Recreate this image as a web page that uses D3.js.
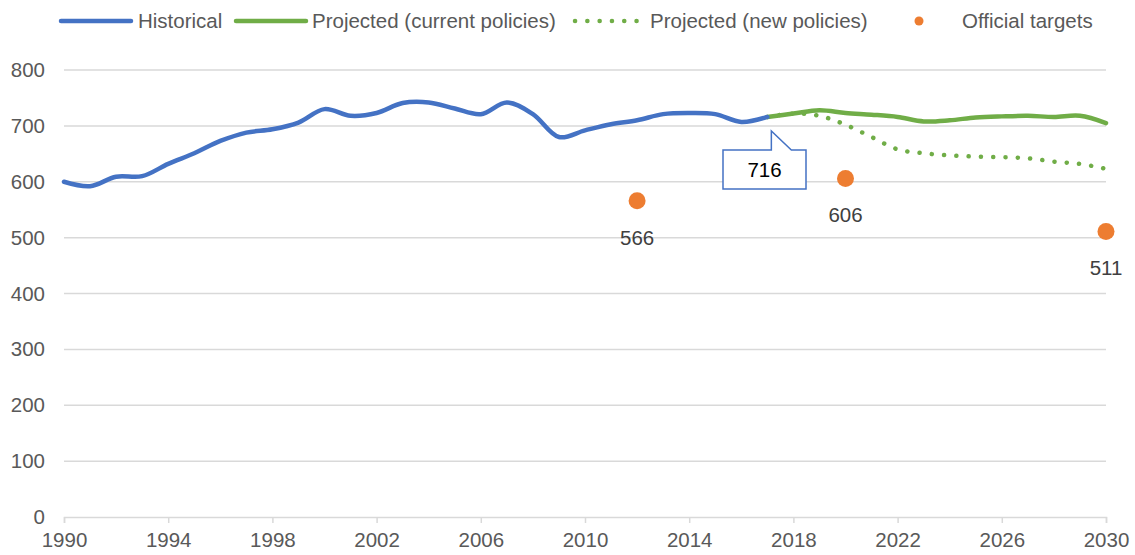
<!DOCTYPE html>
<html>
<head>
<meta charset="utf-8">
<script src="https://cdn.jsdelivr.net/npm/d3@7"></script>
<style>
  body { margin: 0; background: #fff; }
  svg { display: block; font-family: "Liberation Sans", Arial, sans-serif; }
</style>
</head>
<body>
<svg class="target" width="1135" height="555"></svg>
<script>
// data
var histYears = d3.range(1990, 2018);
var histValues = [600, 592, 609, 610, 632, 651, 673, 688, 694, 706, 730, 718, 723, 741, 742, 731, 721, 742, 721, 680, 692, 703, 710, 721, 723, 721, 707, 716];

var projYears = d3.range(2017, 2031);
var currentValues = [716, 722, 728, 723, 720, 716, 708, 710, 715, 717, 718, 716, 718, 705];
var newValues = [716, 722, 718, 702, 680, 658, 651, 647, 645, 644, 642, 636, 632, 623];

var targetYears = [2012, 2020, 2030];
var targetValues = [566, 606, 511];

var yTicks = [0, 100, 200, 300, 400, 500, 600, 700, 800];
var xTicks = d3.range(1990, 2031, 4);

var blue = "#4472C4", green = "#70AD47", orange = "#ED7D31", grey = "#595959", gridc = "#d9d9d9";

var svg = d3.select(".target");
var plot_l = 64, plot_r = 1106, plot_t = 70, plot_b = 517;

var x = d3.scaleLinear().domain([1990, 2030]).range([plot_l, plot_r]);
var y = d3.scaleLinear().domain([0, 800]).range([plot_b, plot_t]);

// gridlines
svg.append("g")
    .selectAll("line")
    .data(yTicks.filter(d => d > 0))
    .join("line")
    .attr("x1", plot_l).attr("x2", plot_r)
    .attr("y1", d => y(d)).attr("y2", d => y(d))
    .style("stroke", gridc).style("stroke-width", 1.5);

// y axis labels
var yAxis = svg.append("g")
    .attr("transform", "translate(" + plot_l + ",0)")
    .call(d3.axisLeft(y).tickValues(yTicks).tickSize(0).tickPadding(19));
yAxis.select(".domain").remove();
yAxis.selectAll("text").style("font-size", "20.5px").style("fill", grey).style("font-family", "Liberation Sans, Arial, sans-serif");

// x axis
var xAxis = svg.append("g")
    .attr("transform", "translate(0," + plot_b + ")")
    .call(d3.axisBottom(x).tickValues(xTicks).tickFormat(d3.format("d")).tickSizeOuter(0).tickSize(6).tickPadding(9));
xAxis.select(".domain").style("stroke", gridc).style("stroke-width", 1.5);
xAxis.selectAll(".tick line").style("stroke", gridc).style("stroke-width", 1.5);
xAxis.selectAll("text").style("font-size", "20.5px").style("fill", grey).style("font-family", "Liberation Sans, Arial, sans-serif");

var line = d3.line()
    .x(d => x(d[0]))
    .y(d => y(d[1]))
    .curve(d3.curveCatmullRom.alpha(0.5));

// new policies (dotted)
svg.append("path")
    .datum(d3.zip(projYears, newValues))
    .attr("d", line)
    .style("fill", "none")
    .style("stroke", green)
    .style("stroke-width", 4.5)
    .style("stroke-linecap", "round")
    .style("stroke-dasharray", "0.1 12.2");

// current policies
svg.append("path")
    .datum(d3.zip(projYears, currentValues))
    .attr("d", line)
    .style("fill", "none")
    .style("stroke", green)
    .style("stroke-width", 4.5)
    .style("stroke-linecap", "round");

// historical
svg.append("path")
    .datum(d3.zip(histYears, histValues))
    .attr("d", line)
    .style("fill", "none")
    .style("stroke", blue)
    .style("stroke-width", 4.5)
    .style("stroke-linecap", "round");

// official targets
var targets = d3.zip(targetYears, targetValues);
svg.append("g").selectAll("circle")
    .data(targets)
    .join("circle")
    .attr("cx", d => x(d[0]))
    .attr("cy", d => y(d[1]))
    .attr("r", 8.5)
    .style("fill", orange);

svg.append("g").selectAll("text")
    .data(targets)
    .join("text")
    .attr("x", d => x(d[0]))
    .attr("y", d => y(d[1]) + 44)
    .attr("text-anchor", "middle")
    .style("font-size", "20.5px")
    .style("fill", "#404040")
    .text(d => d[1]);

// callout for last historical value
var lastYear = histYears[histYears.length - 1];
var lastVal = histValues[histValues.length - 1];
var bx0 = 723, bx1 = 806, by0 = 150, by1 = 189;
var tipX = x(lastYear) + 3, tipY = y(lastVal) + 14;
svg.append("path")
    .attr("d", "M" + bx0 + "," + by0 + " L" + (tipX + 1) + "," + by0 + " L" + (tipX + 1) + "," + tipY +
        " L" + (tipX + 21) + "," + by0 + " L" + bx1 + "," + by0 + " L" + bx1 + "," + by1 + " L" + bx0 + "," + by1 + " Z")
    .style("fill", "#fff")
    .style("stroke", blue)
    .style("stroke-width", 1.5);
svg.append("text")
    .attr("x", (bx0 + bx1) / 2)
    .attr("y", 177)
    .attr("text-anchor", "middle")
    .style("font-size", "20.5px")
    .style("fill", "#000")
    .text(lastVal);

// legend
var lg = svg.append("g").style("font-size", "20.5px").style("fill", grey);
lg.append("line").attr("x1", 61).attr("x2", 131).attr("y1", 21).attr("y2", 21)
    .style("stroke", blue).style("stroke-width", 4.5).style("stroke-linecap", "round");
lg.append("text").attr("x", 138).attr("y", 28).text("Historical");
lg.append("line").attr("x1", 236).attr("x2", 306).attr("y1", 21).attr("y2", 21)
    .style("stroke", green).style("stroke-width", 4.5).style("stroke-linecap", "round");
lg.append("text").attr("x", 312).attr("y", 28).text("Projected (current policies)");
lg.append("line").attr("x1", 575).attr("x2", 637).attr("y1", 21).attr("y2", 21)
    .style("stroke", green).style("stroke-width", 4.5).style("stroke-linecap", "round")
    .style("stroke-dasharray", "0.1 12.2");
lg.append("text").attr("x", 650).attr("y", 28).text("Projected (new policies)");
lg.append("circle").attr("cx", 919).attr("cy", 21).attr("r", 4.5).style("fill", orange);
lg.append("text").attr("x", 962).attr("y", 28).text("Official targets");
</script>
</body>
</html>
